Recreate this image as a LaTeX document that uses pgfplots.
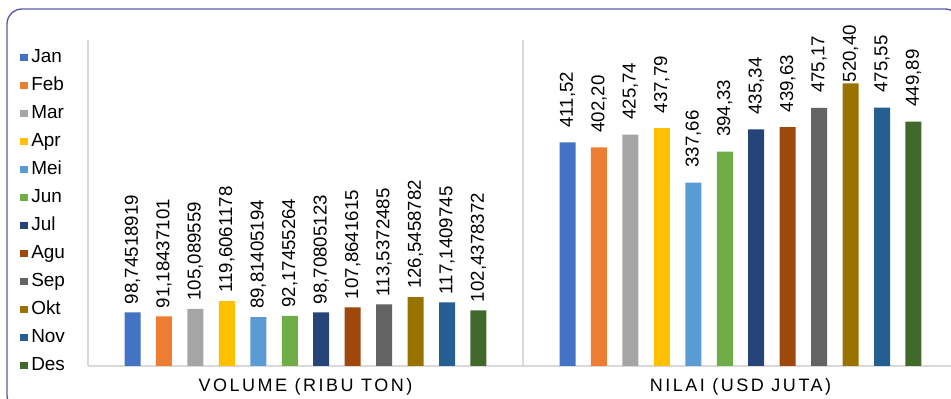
\documentclass[border=0pt]{standalone}
\usepackage{fontspec}
\setmainfont{Liberation Sans}
\newfontfamily\catfont[Scale=1.35,LetterSpace=14]{Liberation Sans}
\newfontfamily\lblfont[Scale=1.4]{Liberation Sans}
\newfontfamily\legfont[Scale=1.42]{Liberation Sans}
\usepackage{pgfplots}
\pgfplotsset{compat=1.18}
\definecolor{cJan}{HTML}{4472C4}
\definecolor{cFeb}{HTML}{ED7D31}
\definecolor{cMar}{HTML}{A5A5A5}
\definecolor{cApr}{HTML}{FFC000}
\definecolor{cMei}{HTML}{5B9BD5}
\definecolor{cJun}{HTML}{70AD47}
\definecolor{cJul}{HTML}{264478}
\definecolor{cAgu}{HTML}{9E480E}
\definecolor{cSep}{HTML}{636363}
\definecolor{cOkt}{HTML}{997300}
\definecolor{cNov}{HTML}{255E91}
\definecolor{cDes}{HTML}{43682B}
\definecolor{gridc}{RGB}{217,217,217}
\definecolor{framec}{RGB}{88,90,168}
\begin{document}
\begin{tikzpicture}
\path[use as bounding box] (0,0) rectangle (713.25pt,299.25pt);
\clip (0,0) rectangle (713.25pt,299.25pt);
\draw[framec, line width=1pt, rounded corners=11.25pt] (5.25pt,-8.25pt) rectangle (720pt,292.5pt);
\begin{axis}[
  at={(66pt,24.75pt)}, anchor=south west,
  scale only axis, width=652.5pt, height=244.5pt,
  xmin=-0.5, xmax=1.5, ymin=0, ymax=600,
  ybar=11.59pt, bar width=12pt,
  clip=false,
  axis line style={draw=none},
  major tick length=0pt, minor tick length=0pt,
  xtick={0,1},
  xticklabels={{VOLUME (RIBU TON)},{NILAI (USD JUTA)}},
  xticklabel style={font=\catfont, inner sep=0pt, anchor=north, yshift=-9pt},
  minor xtick={-0.5,0.5,1.5},
  xminorgrids,
  minor grid style={gridc, line width=0.9pt},
  ytick={0}, yticklabels={}, ymajorgrids,
  major grid style={gridc, line width=0.9pt},
  point meta=explicit symbolic,
  nodes near coords={\lblfont\pgfplotspointmeta},
  every node near coord/.append style={rotate=90, anchor=west, inner xsep=6pt, inner ysep=0pt, font=\lblfont, text=black},
  legend image code/.code={\fill[#1] (0pt,-2pt) rectangle (6pt,3.25pt);},
  legend cell align=left,
  legend style={at={(-0.0782,0.4724)}, anchor=west, draw=none, fill=none,
    inner sep=0pt, outer sep=0pt, row sep=8pt, column sep=2.5pt,
    font=\legfont,
    nodes={inner sep=0pt, text height=10pt, text depth=3pt, font=\legfont}},
  every axis plot/.append style={draw=none},
]
\addplot[fill=cJan] coordinates {(0,98.74518919) [98,74518919] (1,411.52) [\hspace{5pt}411,52]};
\addplot[fill=cFeb] coordinates {(0,91.18437101) [91,18437101] (1,402.20) [\hspace{5pt}402,20]};
\addplot[fill=cMar] coordinates {(0,105.089559) [105,089559] (1,425.74) [\hspace{5pt}425,74]};
\addplot[fill=cApr] coordinates {(0,119.6061178) [119,6061178] (1,437.79) [\hspace{5pt}437,79]};
\addplot[fill=cMei] coordinates {(0,89.81405194) [89,81405194] (1,337.66) [\hspace{5pt}337,66]};
\addplot[fill=cJun] coordinates {(0,92.17455264) [92,17455264] (1,394.33) [\hspace{5pt}394,33]};
\addplot[fill=cJul] coordinates {(0,98.70805123) [98,70805123] (1,435.34) [\hspace{5pt}435,34]};
\addplot[fill=cAgu] coordinates {(0,107.8641615) [107,8641615] (1,439.63) [\hspace{5pt}439,63]};
\addplot[fill=cSep] coordinates {(0,113.5372485) [113,5372485] (1,475.17) [\hspace{5pt}475,17]};
\addplot[fill=cOkt] coordinates {(0,126.5458782) [126,5458782] (1,520.40) [\hspace{-5.5pt}520,40]};
\addplot[fill=cNov] coordinates {(0,117.1409745) [117,1409745] (1,475.55) [\hspace{5pt}475,55]};
\addplot[fill=cDes] coordinates {(0,102.4378372) [102,4378372] (1,449.89) [\hspace{5pt}449,89]};
\legend{Jan,Feb,Mar,Apr,Mei,Jun,Jul,Agu,Sep,Okt,Nov,Des}
\end{axis}
\end{tikzpicture}
\end{document}
